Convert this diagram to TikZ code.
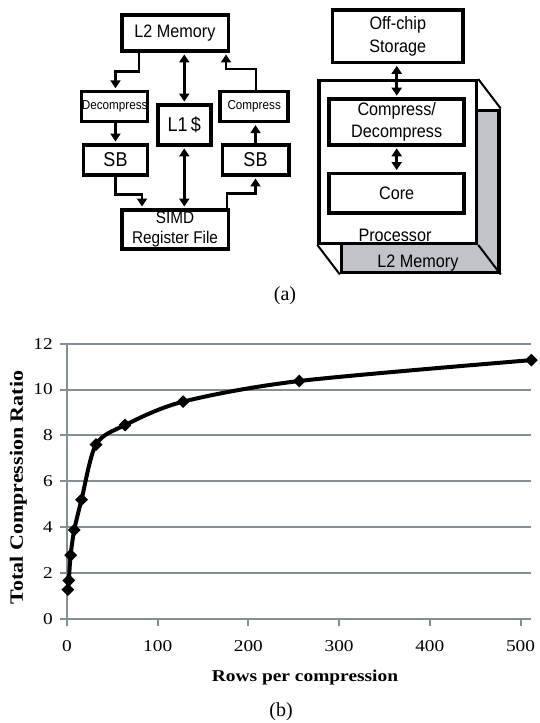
\documentclass[tikz,border=0pt]{standalone}
\usepackage{fontspec}
\setmainfont{Liberation Serif}
\newfontfamily\diafont[FakeStretch=0.9]{Liberation Sans}
\newfontfamily\chartfont[FakeStretch=1.17]{Liberation Serif}
\usetikzlibrary{arrows.meta,shapes.geometric}
\definecolor{gridgray}{RGB}{134,142,150}
\definecolor{l2gray}{RGB}{192,196,201}

\begin{document}
\begin{tikzpicture}[x=1pt,y=-1pt,
  blk/.style={draw, line width=3.5pt, inner sep=0pt, align=center,
    font=\diafont\fontsize{18}{23}\selectfont},
  smallblk/.style={blk, font=\diafont\fontsize{13}{15}\selectfont},
  arr/.style={line width=2.6pt, -{Triangle[length=8pt,width=10pt]}, shorten >=1.7pt},
  arrtwo/.style={line width=2.6pt, {Triangle[length=8pt,width=10pt]}-{Triangle[length=8pt,width=10pt]},
    shorten >=1.7pt, shorten <=1.7pt},
  grid/.style={draw=gridgray, line width=2pt},
  ticklbl/.style={font=\chartfont\fontsize{16.5}{18}\selectfont, inner sep=0pt},
  axislbl/.style={font=\chartfont\bfseries\fontsize{16.6}{18}\selectfont, inner sep=0pt},
  caption/.style={font=\fontsize{20}{22}\selectfont, inner sep=0pt},
  dmd/.style={diamond, fill=black, minimum width=13pt, minimum height=13pt, inner sep=0pt, aspect=1},
]
\useasboundingbox (0,0) rectangle (539,723);

% ---------- left: data path with compression ----------
\node[blk, minimum width=106.5pt, minimum height=36pt] (l2) at (175,33) {L2 Memory};
\node[smallblk, minimum width=66pt, minimum height=30pt] (dec) at (114.7,106.7) {Decompress};
\node[blk, font=\diafont\fontsize{20}{22}\selectfont, minimum width=53pt, minimum height=40pt] (l1) at (184.3,125) {L1\,\$};
\node[smallblk, minimum width=68pt, minimum height=30pt] (cmp) at (254.2,106.7) {Compress};
\node[blk, font=\diafont\fontsize{20}{22}\selectfont, minimum width=64pt, minimum height=30pt] (sbl) at (115.5,160) {SB};
\node[blk, font=\diafont\fontsize{20}{22}\selectfont, minimum width=66.5pt, minimum height=30pt] (sbr) at (255.5,160) {SB};
\node[blk, font=\diafont\fontsize{17}{19.5}\selectfont, minimum width=106.5pt, minimum height=39pt] (simd) at (175,229.5) {SIMD\\Register File};

\draw[arr] ([xshift=-36pt]l2.south) -- ++(0,19) -| (sbl.north |- dec.north);
\draw[arrtwo] (l1.north |- l2.south) -- (l1.north);
\draw[arr] ([xshift=1.8pt]cmp.north) -- ++(0,-21) -| ([xshift=51pt]l2.south);
\draw[arr] (sbl.north |- dec.south) -- (sbl.north);
\draw[arr] (sbr.north) -- (sbr.north |- cmp.south);
\draw[arr] (sbl.south) -- ++(0,18) -| ([xshift=-33pt]simd.north);
\draw[arrtwo] (l1.south) -- (l1.south |- simd.north);
\draw[arr] ([xshift=52pt]simd.north) -- ++(0,-15) -| (sbr.south);

% ---------- right: processor stack ----------
\node[blk, minimum width=130.8pt, minimum height=52.2pt] (off) at (397.8,36.2) {Off-chip\\Storage};
\node[draw, line width=3.3pt, fill=l2gray, minimum width=157.6pt, minimum height=162.6pt, inner sep=0pt] (back) at (420.3,191.5) {};
\node[draw, line width=3.3pt, fill=white, minimum width=157.6pt, minimum height=162.6pt, inner sep=0pt] (proc) at (397.8,162) {};
\draw[line width=2pt] (proc.north east) -- (back.north east);
\draw[line width=2pt] (proc.south west) -- (back.south west);
\draw[line width=2pt] (proc.south east) -- (back.south east);
\node[blk, font=\diafont\fontsize{18}{22}\selectfont, minimum width=135pt, minimum height=45.7pt] (cd) at (396.7,122) {Compress/\\Decompress};
\node[blk, minimum width=135pt, minimum height=39.6pt] (core) at (396.7,193.3) {Core};
\node[font=\diafont\fontsize{18}{21}\selectfont, inner sep=0pt] (proclbl) at (395,235) {Processor};
\node[font=\diafont\fontsize{18}{21}\selectfont, inner sep=0pt] (l2lbl) at (418,263.5) {L2 Memory};

\draw[arrtwo] (cd.north |- off.south) -- (cd.north);
\draw[arrtwo] (cd.south) -- (core.north);

\node[caption] (capa) at (285,296) {(a)};

% ---------- chart: compression ratio vs rows ----------
\begin{scope}[shift={(67,619)}, x=0.907pt, y=22.95pt]
  \foreach \v in {2,4,...,12}
    \draw[grid] (0,\v) -- (512,\v);
  \draw[grid] (0,0) -- (512,0);
  \draw[grid] (0,0) -- (0,12);
  \foreach \v in {0,2,...,12} {
    \draw[grid] (0,\v) -- ([xshift=-7pt]0,\v);
    \node[ticklbl, anchor=east] at ([xshift=-14pt]0,\v) {\v};
  }
  \foreach \v in {0,100,...,500} {
    \draw[grid] (\v,0) -- ([yshift=-7pt]\v,0);
    \node[ticklbl] at ([yshift=-27pt]\v,0) {\v};
  }
  \draw[line width=4pt, line join=round] plot[smooth, tension=0.5] coordinates
    {(1,1.28) (2,1.68) (4,2.78) (8,3.88) (16,5.2) (32,7.6) (64,8.45) (128,9.47) (256,10.37) (512,11.28)};
  \foreach \p in {(1,1.28),(2,1.68),(4,2.78),(8,3.88),(16,5.2),(32,7.6),(64,8.45),(128,9.47),(256,10.37),(512,11.28)}
    \node[dmd] at \p {};
\end{scope}

\node[axislbl, font=\chartfont\bfseries\fontsize{18.8}{20}\selectfont, rotate=90] (ylbl) at (18.3,487.5) {Total Compression Ratio};
\node[axislbl] (xlbl) at (305,677) {Rows per compression};
\node[caption] (capb) at (281,712) {(b)};
\end{tikzpicture}
\end{document}
